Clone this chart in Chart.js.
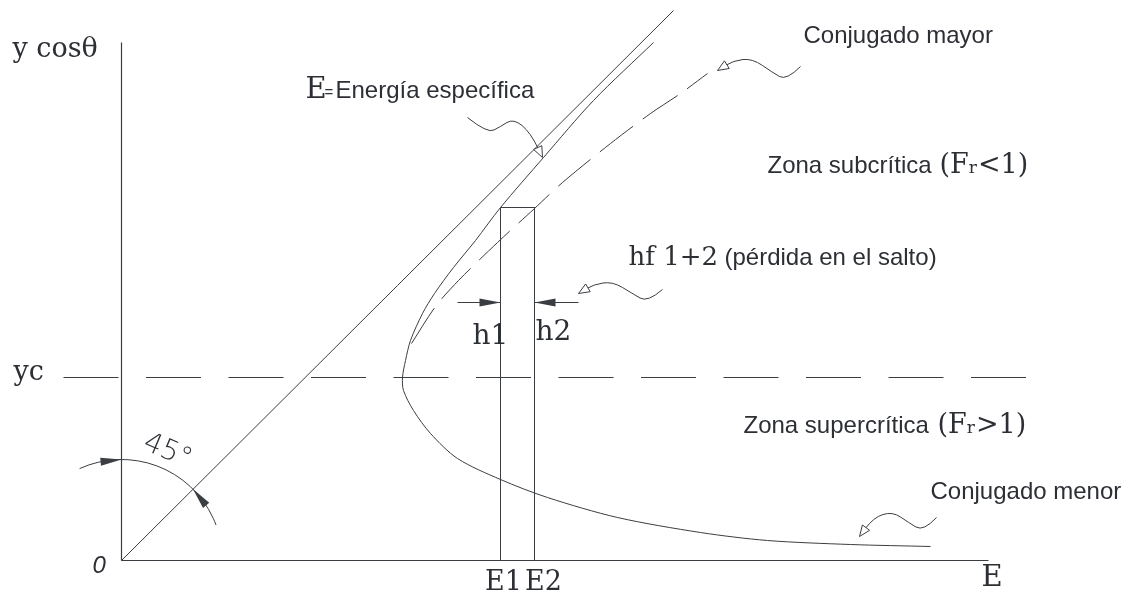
<!DOCTYPE html>
<html>
<head>
<meta charset="utf-8">
<script src="https://cdn.jsdelivr.net/npm/chart.js@4/dist/chart.umd.min.js"></script>
<style>html,body{margin:0;padding:0;background:#fff;}canvas{display:block;}</style>
</head>
<body>
<canvas id="c" width="1128" height="593"></canvas>
<script>
// ---------- data (E on horizontal axis, y cosθ on vertical axis, drawing units) ----------
const axisEEnd = 8.67;          // end of E axis
const axisYEnd = 5.18;          // end of y cosθ axis
const line45E = [0, 5.52];      // E = y  (45° line)
const line45Y = [0, 5.50];
// specific-energy curve: lower (supercritical) branch -> nose -> upper branch
const curveE = [8.09, 7.29, 6.46, 5.79, 4.96, 4.26, 3.79, 3.36, 3.09, 2.92, 2.82, 2.81, 2.84, 2.89, 3.01, 3.13, 3.32, 3.54, 3.79, 4.22, 4.72, 5.32];
const curveY = [0.14, 0.16, 0.20, 0.28, 0.43, 0.63, 0.81, 1.02, 1.27, 1.50, 1.70, 1.83, 2.00, 2.20, 2.47, 2.67, 2.93, 3.20, 3.53, 4.03, 4.60, 5.18];
// conjugado mayor (dashed)
const conjE = [2.90, 3.14, 3.37, 3.76, 4.13, 4.41, 4.89, 5.29, 5.59, 5.86];
const conjY = [2.17, 2.54, 2.80, 3.18, 3.52, 3.78, 4.17, 4.47, 4.67, 4.87];
const yc = 1.83;
const ycFrom = -0.58, ycTo = 9.06;
const E1 = 3.79, E2 = 4.13;
const jumpTop = 3.53;
const hLevel = 2.58;
const h1From = 3.36, h2To = 4.57;

// ---------- styling ----------
const ink = '#3a3d42';
const textInk = '#2c2f34';
const SERIF = '"DejaVu Serif", "Liberation Serif", serif';
const SANS = '"Liberation Sans", Arial, sans-serif';

const pts = (xs, ys) => xs.map((v, i) => ({x: v, y: ys[i]}));
const base = {showLine: true, pointRadius: 0, borderColor: ink, borderWidth: 1, fill: false, tension: 0, clip: false};

const datasets = [
  {...base, label: 'eje y', data: pts([0, 0], [0, axisYEnd]), borderWidth: 1.2},
  {...base, label: 'eje E', data: pts([0, axisEEnd], [0, 0]), borderWidth: 1.2},
  {...base, label: '45', data: pts(line45E, line45Y)},
  {...base, label: 'E', data: pts(curveE, curveY), tension: 0.3},
  {...base, label: 'conjugado mayor', data: pts(conjE, conjY), tension: 0.3, borderDash: [42, 12]},
  {...base, label: 'yc', data: pts([ycFrom, ycTo], [yc, yc]), borderDash: [55, 27.5]},
  {...base, label: 'salto', data: pts([E1, E1, E2, E2], [0, jumpTop, jumpTop, 0])},
  {...base, label: 'h1', data: pts([h1From, E1], [hLevel, hLevel])},
  {...base, label: 'h2', data: pts([E2, h2To], [hLevel, hLevel])}
];

// annotation leaders (wavy arrows), in data units
const leaders = [
  [[3.46, 4.43], [3.66, 4.27], [3.79, 4.34], [3.92, 4.42], [4.09, 4.28], [4.21, 4.03]],
  [[6.79, 4.94], [6.65, 4.80], [6.51, 4.88], [6.31, 5.02], [6.12, 5.00], [5.96, 4.90]],
  [[5.41, 2.71], [5.26, 2.58], [5.11, 2.67], [4.91, 2.79], [4.72, 2.76], [4.57, 2.67]],
  [[8.15, 0.43], [8.02, 0.29], [7.87, 0.38], [7.71, 0.49], [7.52, 0.43], [7.38, 0.24]]
];

const deco = {
  id: 'deco',
  afterDatasetsDraw(chart) {
    const {ctx, scales: {x, y}} = chart;
    const X = v => x.getPixelForValue(v), Y = v => y.getPixelForValue(v);
    ctx.save();
    ctx.strokeStyle = ink; ctx.fillStyle = ink; ctx.lineWidth = 1;

    function head(tx, ty, dx, dy, len, hw, filled) {
      const m = Math.hypot(dx, dy); dx /= m; dy /= m;
      const bx = tx - dx * len, by = ty - dy * len;
      const nx = -dy, ny = dx;
      ctx.beginPath();
      ctx.moveTo(tx, ty);
      ctx.lineTo(bx + nx * hw, by + ny * hw);
      ctx.lineTo(bx - nx * hw, by - ny * hw);
      ctx.closePath();
      if (filled) { ctx.fillStyle = ink; ctx.fill(); }
      else { ctx.fillStyle = '#fff'; ctx.fill(); ctx.stroke(); }
    }

    // 45° arc with arrows
    const cx = X(0), cy = Y(0), r = X(1.01) - X(0);
    const d = Math.PI / 180;
    ctx.beginPath();
    ctx.arc(cx, cy, r, -114.5 * d, -20.6 * d, false);
    ctx.stroke();
    let a = -90 * d, am = a - 10.5 / r;
    head(cx + r * Math.cos(a), cy + r * Math.sin(a), -Math.sin(am), Math.cos(am), 21, 4, true);
    a = -45 * d; am = a + 10.5 / r;
    head(cx + r * Math.cos(a), cy + r * Math.sin(a), Math.sin(am), -Math.cos(am), 21, 4, true);

    // dimension arrows h1 / h2
    head(X(E1), Y(hLevel), 1, 0, 21, 4, true);
    head(X(E2), Y(hLevel), -1, 0, 21, 4, true);

    // wavy leaders with open heads
    leaders.forEach(L => {
      const p = L.map(q => [X(q[0]), Y(q[1])]);
      const n = p.length;
      const tip = p[n - 1], prev = p[n - 2];
      let dx = tip[0] - prev[0], dy = tip[1] - prev[1];
      const m = Math.hypot(dx, dy);
      const endX = tip[0] - dx / m * 10, endY = tip[1] - dy / m * 10;
      ctx.beginPath();
      ctx.moveTo(p[0][0], p[0][1]);
      for (let i = 1; i < n - 2; i++) {
        const mx = (p[i][0] + p[i + 1][0]) / 2, my = (p[i][1] + p[i + 1][1]) / 2;
        ctx.quadraticCurveTo(p[i][0], p[i][1], mx, my);
      }
      ctx.quadraticCurveTo(p[n - 2][0], p[n - 2][1], endX, endY);
      ctx.stroke();
      head(tip[0], tip[1], dx, dy, 11, 4.5, false);
    });

    // texts
    ctx.textBaseline = 'alphabetic';
    function label(s, ex, ey, font, align) {
      ctx.font = font; ctx.textAlign = align || 'left'; ctx.fillStyle = textInk;
      ctx.fillText(s, X(ex), Y(ey));
      return ctx.measureText(s).width;
    }
    function fr(px, py, sign) {
      ctx.textAlign = 'left'; ctx.fillStyle = textInk;
      ctx.font = '27px ' + SERIF; ctx.fillText('(F', px, py); px += ctx.measureText('(F').width;
      ctx.font = '17px ' + SERIF; ctx.fillText('r', px, py); px += ctx.measureText('r').width + 1;
      ctx.font = '27px ' + SERIF; ctx.fillText(sign + '1)', px, py);
    }
    label('y cosθ', -1.09, 5.04, '27px ' + SERIF);
    label('yc', -1.08, 1.81, '27px ' + SERIF);
    label('0', -0.29, -0.12, 'italic 24px ' + SANS);
    label('E', 8.60, -0.25, '29px ' + SERIF);
    label('E1', 3.82, -0.29, '27px ' + SERIF, 'center');
    label('E2', 4.22, -0.29, '27px ' + SERIF, 'center');
    label('h1', 3.51, 2.17, '28px ' + SERIF);
    label('h2', 4.14, 2.21, '28px ' + SERIF);
    label('E', 1.84, 4.63, '29px ' + SERIF);
    label('=', 2.03, 4.64, '15px ' + SANS);
    label('Energía específica', 2.14, 4.63, '24px ' + SANS);
    label('Conjugado mayor', 6.82, 5.18, '24px ' + SANS);
    label('Zona subcrítica', 6.46, 3.88, '24px ' + SANS);
    fr(X(8.18), Y(3.88), '<');
    label('Zona supercrítica', 6.22, 1.28, '24px ' + SANS);
    fr(X(8.16), Y(1.28), '>');
    label('Conjugado menor', 8.09, 0.62, '24px ' + SANS);
    label('hf 1+2', 5.07, 2.96, '26px ' + SERIF);
    label('(pérdida en el salto)', 6.03, 2.96, '24px ' + SANS);

    // 45° text along the arc
    ctx.save();
    ctx.translate(X(0.46), Y(1.09));
    ctx.rotate(23 * d);
    ctx.font = '200 28px "DejaVu Sans", sans-serif';
    ctx.textAlign = 'center'; ctx.textBaseline = 'middle';
    ctx.fillStyle = textInk;
    ctx.fillText('45°', 0, 0);
    ctx.restore();

    ctx.restore();
  }
};

new Chart(document.getElementById('c'), {
  type: 'scatter',
  data: {datasets},
  options: {
    responsive: false,
    animation: false,
    devicePixelRatio: 1,
    events: [],
    layout: {padding: 0},
    plugins: {legend: {display: false}, tooltip: {enabled: false}},
    scales: {
      x: {type: 'linear', min: -1.215, max: 10.065, display: false},
      y: {type: 'linear', min: -0.325, max: 5.605, display: false}
    }
  },
  plugins: [deco]
});
</script>
</body>
</html>
